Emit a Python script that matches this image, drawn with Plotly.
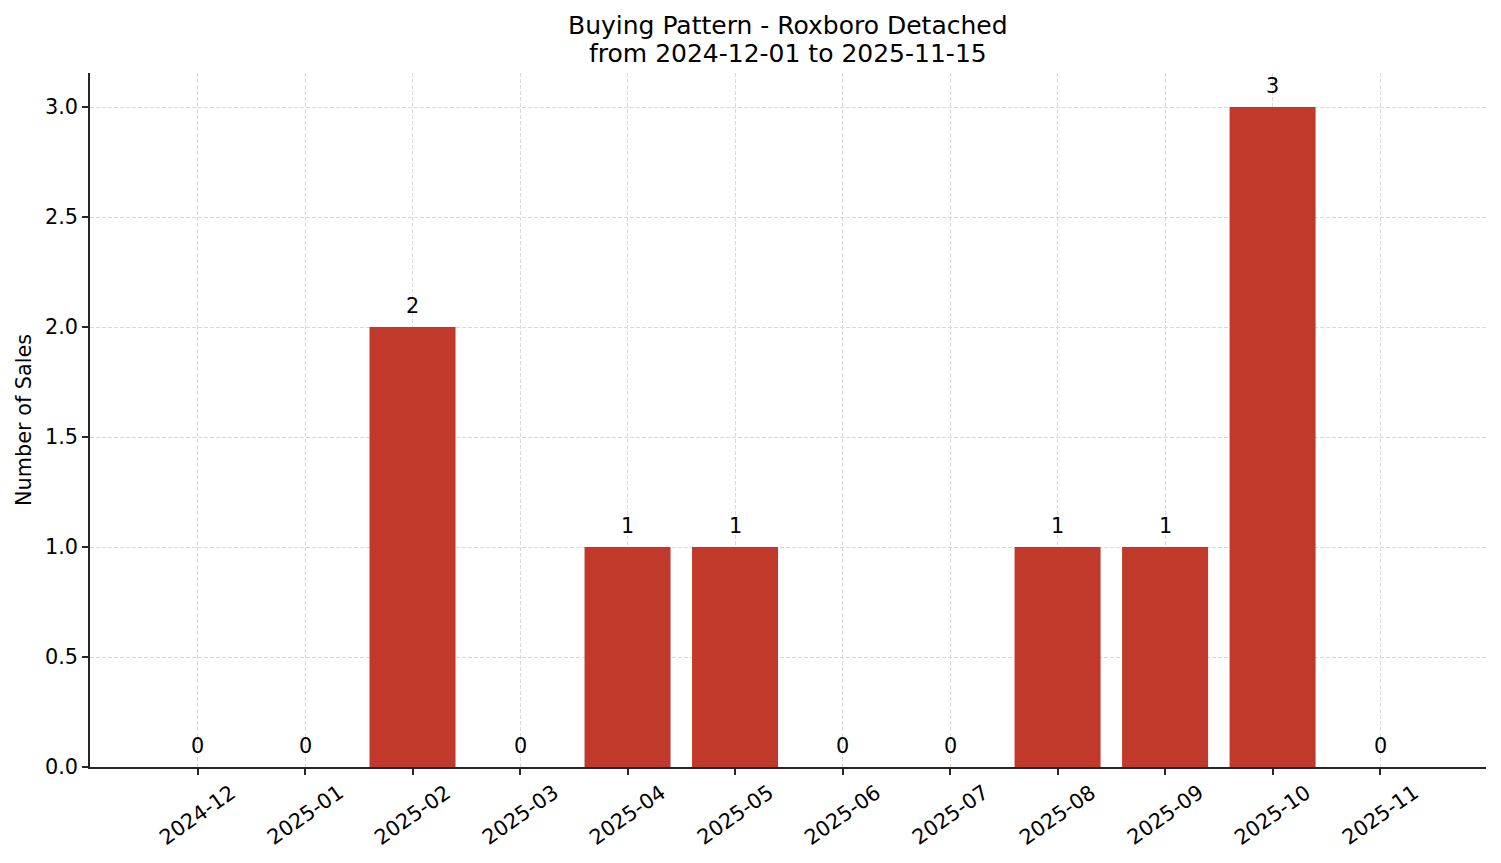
import plotly.graph_objects as go

months = ["2024-12", "2025-01", "2025-02", "2025-03", "2025-04", "2025-05",
          "2025-06", "2025-07", "2025-08", "2025-09", "2025-10", "2025-11"]
sales = [0, 0, 2, 0, 1, 1, 0, 0, 1, 1, 3, 0]
y_ticks = [0, 0.5, 1, 1.5, 2, 2.5, 3]

title_lines = ["Buying Pattern - Roxboro Detached", "from 2024-12-01 to 2025-11-15"]
y_title = "Number of Sales"

BAR_COLOR = "#c0392b"
FONT = "DejaVu Sans"
AXIS_COLOR = "#262626"
GRID_COLOR = "#d9d9d9"


def main():
    fig = go.Figure()
    fig.add_trace(go.Bar(x=months,
                         y=sales,
                         width=0.8,
                         marker=dict(color=BAR_COLOR, line=dict(width=0)),
                         hoverinfo="x+y"))

    annotations = []
    # value labels above each bar (zeros included)
    for m, v in zip(months, sales):
        annotations.append(dict(x=m, y=v, xref="x", yref="y", text=str(v),
                                showarrow=False, yanchor="middle", yshift=21,
                                font=dict(size=20.8, color="black")))
    # rotated month labels, centred under each tick
    for m in months:
        annotations.append(dict(x=m, y=0, xref="x", yref="paper", text=m,
                                showarrow=False, textangle=-35,
                                xanchor="center", yanchor="middle", yshift=-48,
                                font=dict(size=20.8, color="black")))
    # two-line title
    annotations.append(dict(x=0.5, y=1, xref="paper", yref="paper", text=title_lines[0],
                            showarrow=False, yanchor="middle", yshift=48,
                            font=dict(size=25, color="black")))
    annotations.append(dict(x=0.5, y=1, xref="paper", yref="paper", text=title_lines[1],
                            showarrow=False, yanchor="middle", yshift=20,
                            font=dict(size=25, color="black")))
    annotations.append(dict(x=0, y=0.5, xref="paper", yref="paper", text=y_title,
                            showarrow=False, textangle=-90,
                            xanchor="center", yanchor="middle", xshift=-66,
                            font=dict(size=20.8, color="black")))

    fig.update_layout(
        width=1485, height=847,
        margin=dict(l=82, r=7, t=65, b=88),
        plot_bgcolor="white", paper_bgcolor="white",
        font=dict(family=FONT, size=20.8, color="black"),
        showlegend=False,
        annotations=annotations,
    )
    fig.update_xaxes(type="category",
                     range=[-1.0, 11.985],
                     showticklabels=False,
                     showline=True, linecolor=AXIS_COLOR, linewidth=1.5,
                     ticks="outside", ticklen=6, tickcolor=AXIS_COLOR, tickwidth=1.5,
                     showgrid=True, gridcolor=GRID_COLOR, griddash="4px,2px", gridwidth=0.8)
    fig.update_yaxes(range=[0, 3.155],
                     tickvals=y_ticks,
                     ticktext=[f"{t:.1f}" for t in y_ticks],
                     showline=True, linecolor=AXIS_COLOR, linewidth=1.5,
                     ticks="outside", ticklen=6, tickcolor=AXIS_COLOR, tickwidth=1.5,
                     showgrid=True, gridcolor=GRID_COLOR, griddash="4px,2px", gridwidth=0.8,
                     zeroline=False,
                     tickfont=dict(size=20.8))

    fig.write_html("out.html")


if __name__ == "__main__":
    main()
